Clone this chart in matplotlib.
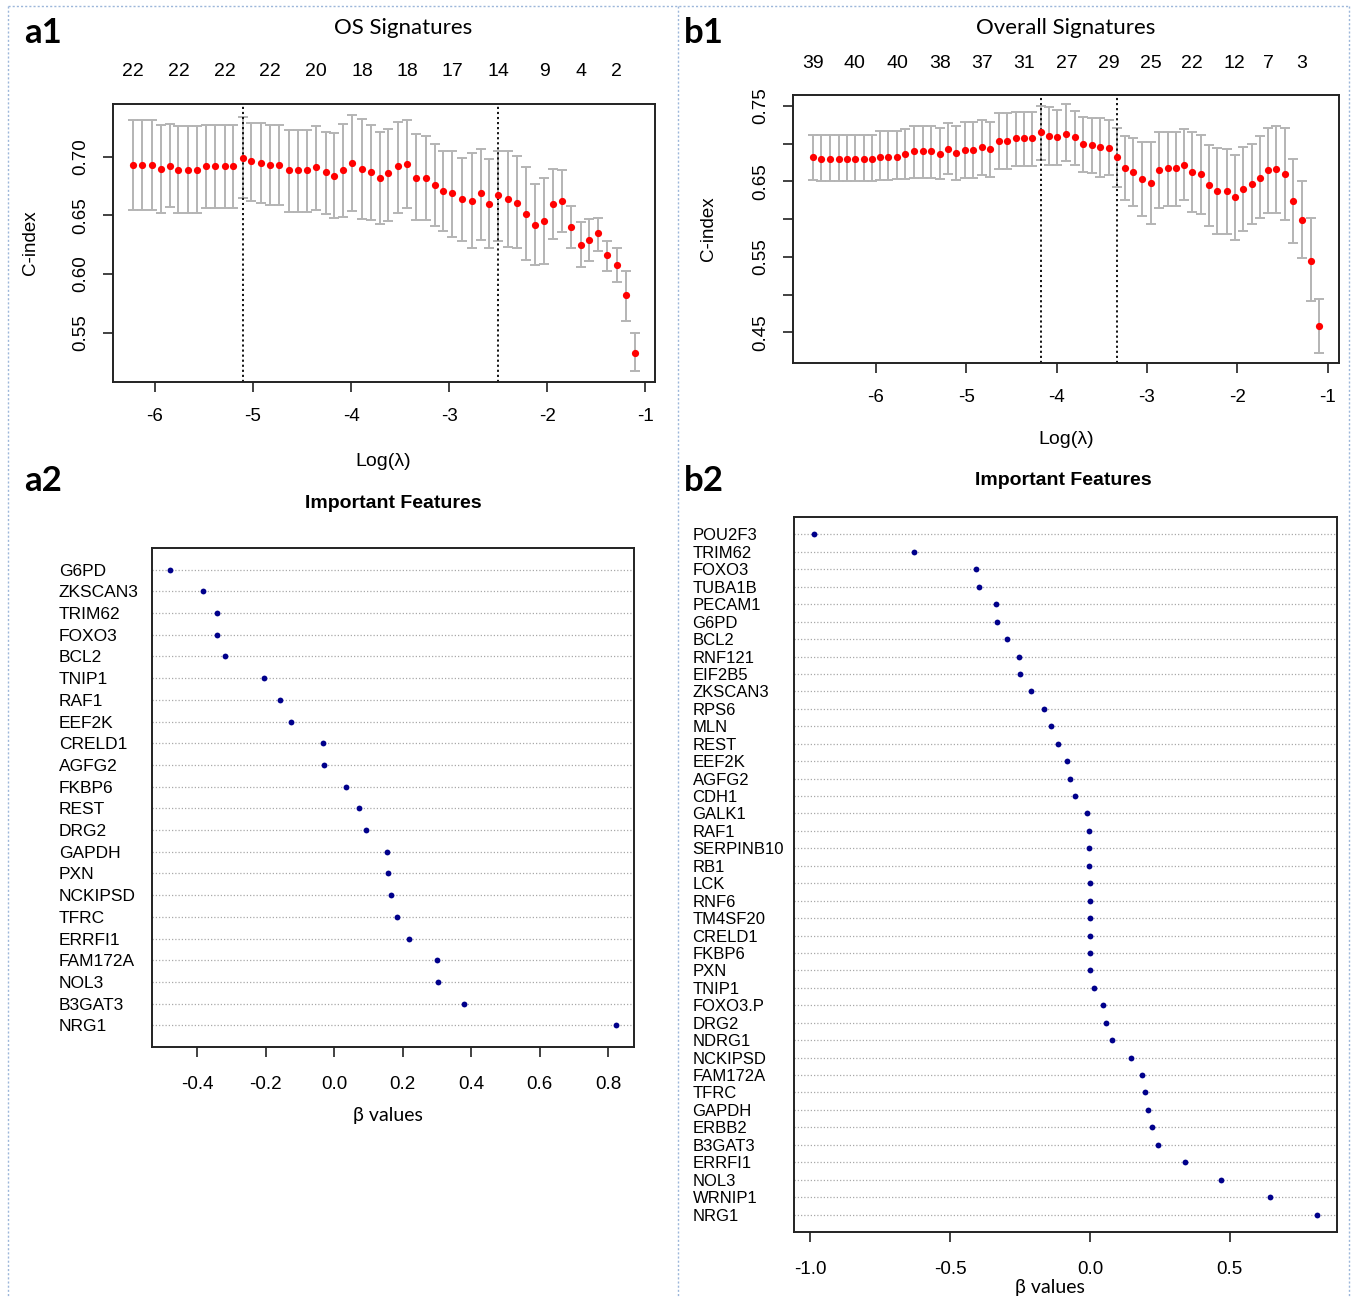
import matplotlib
matplotlib.use("Agg")
import matplotlib.pyplot as plt
from matplotlib.lines import Line2D

# ---- data ----
a1_loglam = [-6.22, -6.13, -6.03, -5.94, -5.85, -5.76, -5.66, -5.57, -5.48, -5.39,
             -5.29, -5.20, -5.10, -5.02, -4.92, -4.83, -4.73, -4.63, -4.54, -4.45,
             -4.36, -4.26, -4.17, -4.08, -3.99, -3.89, -3.80, -3.71, -3.62, -3.52,
             -3.43, -3.34, -3.24, -3.14, -3.06, -2.97, -2.87, -2.77, -2.68, -2.59,
             -2.50, -2.40, -2.31, -2.22, -2.13, -2.03, -1.94, -1.85, -1.76, -1.66,
             -1.57, -1.48, -1.39, -1.29, -1.20, -1.11]
a1_cv = [.693, .693, .693, .690, .692, .689, .689, .689, .692, .692,
         .692, .692, .699, .696, .695, .693, .693, .689, .689, .689,
         .691, .687, .684, .689, .695, .690, .687, .682, .686, .692,
         .694, .682, .682, .676, .671, .669, .664, .662, .669, .660,
         .667, .664, .661, .651, .642, .645, .660, .662, .640, .625,
         .629, .635, .616, .608, .582, .533]
a1_up = [.731, .731, .731, .727, .728, .726, .726, .726, .727, .727,
         .727, .727, .734, .729, .729, .727, .727, .723, .723, .723,
         .726, .721, .720, .728, .736, .732, .727, .721, .724, .730,
         .731, .719, .718, .711, .705, .705, .699, .703, .707, .698,
         .705, .705, .701, .691, .677, .682, .690, .689, .658, .644,
         .647, .648, .628, .622, .603, .550]
a1_lo = [.655, .655, .655, .652, .657, .652, .652, .652, .656, .656,
         .656, .656, .665, .662, .661, .659, .659, .653, .653, .653,
         .655, .651, .648, .649, .654, .647, .646, .643, .645, .652,
         .656, .646, .646, .641, .637, .632, .628, .622, .629, .622,
         .628, .623, .622, .612, .608, .609, .630, .636, .622, .606,
         .611, .620, .603, .593, .560, .517]
a1_top_pos = [-6.22, -5.76, -5.29, -4.83, -4.36, -3.89, -3.43, -2.97, -2.50, -2.03, -1.66, -1.29]
a1_top_nz = [22, 22, 22, 22, 20, 18, 18, 17, 14, 9, 4, 2]
a1_vlines = [-5.10, -2.50]

b1_loglam = [-6.69, -6.60, -6.51, -6.41, -6.32, -6.23, -6.13, -6.04, -5.95, -5.86,
             -5.76, -5.67, -5.58, -5.48, -5.39, -5.29, -5.20, -5.11, -5.01, -4.92,
             -4.82, -4.73, -4.64, -4.55, -4.45, -4.36, -4.27, -4.17, -4.08, -3.99,
             -3.89, -3.80, -3.71, -3.61, -3.52, -3.42, -3.33, -3.24, -3.15, -3.05,
             -2.96, -2.87, -2.77, -2.68, -2.59, -2.50, -2.40, -2.31, -2.22, -2.12,
             -2.03, -1.94, -1.84, -1.75, -1.66, -1.57, -1.47, -1.38, -1.29, -1.19, -1.10]
b1_cv = [.682, .680, .680, .680, .680, .680, .680, .680, .683, .683,
         .683, .687, .690, .690, .690, .687, .693, .688, .691, .691,
         .696, .693, .704, .704, .707, .707, .707, .715, .710, .709,
         .713, .709, .699, .698, .696, .694, .682, .668, .663, .653,
         .648, .665, .668, .668, .672, .663, .660, .645, .637, .637,
         .629, .640, .647, .655, .665, .666, .660, .624, .599, .545, .458]
b1_up = [.712, .712, .712, .712, .712, .712, .712, .712, .717, .717,
         .717, .720, .724, .724, .724, .721, .728, .724, .729, .729,
         .732, .729, .740, .740, .742, .742, .742, .750, .749, .745,
         .752, .743, .735, .734, .734, .732, .721, .710, .707, .702,
         .702, .715, .715, .715, .720, .715, .712, .698, .694, .693,
         .685, .696, .699, .710, .721, .723, .721, .680, .650, .601, .494]
b1_lo = [.652, .650, .650, .650, .650, .650, .650, .650, .652, .652,
         .653, .653, .655, .655, .655, .653, .660, .652, .655, .655,
         .658, .656, .667, .667, .670, .670, .670, .678, .672, .672,
         .677, .672, .663, .661, .656, .658, .642, .626, .618, .604,
         .594, .615, .618, .618, .625, .610, .607, .591, .580, .581,
         .572, .585, .593, .601, .608, .608, .599, .569, .549, .492, .423]
b1_top_pos = [-6.69, -6.23, -5.76, -5.29, -4.82, -4.36, -3.89, -3.42, -2.96, -2.50, -2.03, -1.66, -1.29]
b1_top_nz = [39, 40, 40, 38, 37, 31, 27, 29, 25, 22, 12, 7, 3]
b1_vlines = [-4.17, -3.33]

a2_genes = ['G6PD', 'ZKSCAN3', 'TRIM62', 'FOXO3', 'BCL2', 'TNIP1', 'RAF1', 'EEF2K',
            'CRELD1', 'AGFG2', 'FKBP6', 'REST', 'DRG2', 'GAPDH', 'PXN', 'NCKIPSD',
            'TFRC', 'ERRFI1', 'FAM172A', 'NOL3', 'B3GAT3', 'NRG1']
a2_beta = [-0.480, -0.384, -0.343, -0.343, -0.318, -0.205, -0.159, -0.125,
           -0.034, -0.031, 0.035, 0.073, 0.094, 0.154, 0.157, 0.166,
           0.182, 0.219, 0.301, 0.304, 0.378, 0.823]

b2_genes = ['POU2F3', 'TRIM62', 'FOXO3', 'TUBA1B', 'PECAM1', 'G6PD', 'BCL2', 'RNF121',
            'EIF2B5', 'ZKSCAN3', 'RPS6', 'MLN', 'REST', 'EEF2K', 'AGFG2', 'CDH1',
            'GALK1', 'RAF1', 'SERPINB10', 'RB1', 'LCK', 'RNF6', 'TM4SF20', 'CRELD1',
            'FKBP6', 'PXN', 'TNIP1', 'FOXO3.P', 'DRG2', 'NDRG1', 'NCKIPSD', 'FAM172A',
            'TFRC', 'GAPDH', 'ERBB2', 'B3GAT3', 'ERRFI1', 'NOL3', 'WRNIP1', 'NRG1']
b2_beta = [-0.986, -0.628, -0.407, -0.396, -0.336, -0.333, -0.296, -0.255,
           -0.249, -0.212, -0.166, -0.141, -0.115, -0.083, -0.072, -0.052,
           -0.012, -0.003, -0.002, -0.002, -0.001, -0.001, -0.001, -0.001,
           -0.001, 0.000, 0.014, 0.048, 0.058, 0.077, 0.147, 0.187,
           0.198, 0.206, 0.221, 0.243, 0.339, 0.468, 0.642, 0.811]

# ---- layout helpers (pixel coords of the 1352x1298 canvas) ----
W, H = 1352, 1298
plt.rcParams['font.family'] = ['Liberation Sans', 'DejaVu Sans']
plt.rcParams['axes.unicode_minus'] = False
TITLE_FONT = ['Lato', 'DejaVu Sans']

fig = plt.figure(figsize=(W / 100, H / 100), dpi=100)


def box(l, t, r, b):
    return [l / W, 1 - b / H, (r - l) / W, (b - t) / H]


def ftext(x, y, s, **kw):
    fig.text(x / W, 1 - y / H, s, ha='center', va='center', **kw)


def r_axes(ax):
    for sp in ax.spines.values():
        sp.set_linewidth(1.4)
        sp.set_color('#222222')
    ax.tick_params(direction='out', length=7, width=1.3, color='#333333',
                   labelsize=13.5, pad=10)


def cv_panel(ax, x, cv, lo, up, vlines, top_pos, top_nz, xlim, ylim, yticks, ylabels, top_pad):
    err = [[c - l for c, l in zip(cv, lo)], [u - c for u, c in zip(up, cv)]]
    ax.errorbar(x, cv, yerr=err, fmt='none', ecolor='#b4b4b4', elinewidth=1.4,
                capsize=3.3, capthick=1.4, zorder=1)
    ax.plot(x, cv, 'o', color='#ff0000', markersize=5.2, markeredgewidth=0, zorder=3)
    for v in vlines:
        ax.axvline(v, color='black', ls=(0, (1.2, 1.6)), lw=1.3, zorder=2)
    ax.set_xlim(*xlim)
    ax.set_ylim(*ylim)
    ax.set_xticks([-6, -5, -4, -3, -2, -1])
    ax.set_yticks(yticks)
    ax.set_yticklabels(ylabels, rotation=90, va='center')
    r_axes(ax)
    ax.tick_params(axis='x', pad=12)
    top = ax.secondary_xaxis('top')
    top.set_xticks(top_pos, [str(n) for n in top_nz])
    top.tick_params(length=0, labelsize=14, pad=top_pad)
    top.spines['top'].set_visible(False)


def dot_panel(ax, genes, beta, xlim, xticks, xlabels, pad, gsize):
    n = len(genes)
    ypos = [n - i for i in range(n)]
    for y in ypos:
        ax.axhline(y, color='#a9a9a9', ls=(0, (1, 1.6)), lw=0.9, zorder=1)
    ax.plot(beta, ypos, 'o', color='#00008b', markersize=4.2, markeredgewidth=0, zorder=3)
    ax.set_xlim(*xlim)
    ax.set_ylim(0, n + 1)
    ax.set_xticks(xticks)
    ax.set_xticklabels(xlabels)
    ax.set_yticks(ypos)
    r_axes(ax)
    ax.set_yticklabels(genes, ha='left', fontsize=gsize)
    ax.tick_params(axis='y', length=0, pad=pad)
    ax.tick_params(axis='x', pad=14)


# ---- a1 ----
ax_a1 = fig.add_axes(box(113, 104, 655, 382))
cv_panel(ax_a1, a1_loglam, a1_cv, a1_lo, a1_up, a1_vlines, a1_top_pos, a1_top_nz,
         (-6.427, -0.902), (0.508, 0.745), [0.55, 0.60, 0.65, 0.70],
         ['0.55', '0.60', '0.65', '0.70'], 17)

# ---- b1 ----
ax_b1 = fig.add_axes(box(793, 95, 1339, 363))
cv_panel(ax_b1, b1_loglam, b1_cv, b1_lo, b1_up, b1_vlines, b1_top_pos, b1_top_nz,
         (-6.914, -0.876), (0.4095, 0.7645),
         [0.45, 0.50, 0.55, 0.60, 0.65, 0.70, 0.75],
         ['0.45', '', '0.55', '', '0.65', '', '0.75'], 16.5)

# ---- a2 ----
ax_a2 = fig.add_axes(box(152, 548, 634, 1047))
dot_panel(ax_a2, a2_genes, a2_beta, (-0.532, 0.875),
          [-0.4, -0.2, 0.0, 0.2, 0.4, 0.6, 0.8],
          ['-0.4', '-0.2', '0.0', '0.2', '0.4', '0.6', '0.8'], 67, 12.5)

# ---- b2 ----
ax_b2 = fig.add_axes(box(794, 517, 1337, 1232))
dot_panel(ax_b2, b2_genes, b2_beta, (-1.058, 0.883),
          [-1.0, -0.5, 0.0, 0.5], ['-1.0', '-0.5', '0.0', '0.5'], 73, 12)

# ---- texts ----
ftext(43, 33, 'a1', fontsize=25, fontweight='bold', family=TITLE_FONT)
ftext(704, 33, 'b1', fontsize=25, fontweight='bold', family=TITLE_FONT)
ftext(43, 481, 'a2', fontsize=25, fontweight='bold', family=TITLE_FONT)
ftext(704, 481, 'b2', fontsize=25, fontweight='bold', family=TITLE_FONT)

ftext(403, 28, 'OS Signatures', fontsize=16, family=TITLE_FONT)
ftext(1066, 28, 'Overall Signatures', fontsize=16, family=TITLE_FONT)

ftext(31, 243, 'C-index', fontsize=13.5, rotation=90)
ftext(709, 229, 'C-index', fontsize=13.5, rotation=90)
ftext(383, 462, 'Log(λ)', fontsize=14)
ftext(1066, 440, 'Log(λ)', fontsize=14)

ftext(393, 503, 'Important Features', fontsize=14, fontweight='bold')
ftext(1063, 480, 'Important Features', fontsize=14, fontweight='bold')
ftext(388, 1115, 'β values', fontsize=14, family=TITLE_FONT)
ftext(1050, 1288, 'β values', fontsize=14, family=TITLE_FONT)

# ---- dotted panel frames ----
frame = dict(color='#9db7da', lw=1.0, ls=(0, (1.5, 1.5)), transform=fig.transFigure)
fig.add_artist(Line2D([8 / W, 1349 / W], [1 - 6 / H, 1 - 6 / H], **frame))
for xv in (8, 678, 1349):
    fig.add_artist(Line2D([xv / W, xv / W], [1 - 6 / H, 1 - 1296 / H], **frame))

fig.savefig('out.png', dpi=100)
